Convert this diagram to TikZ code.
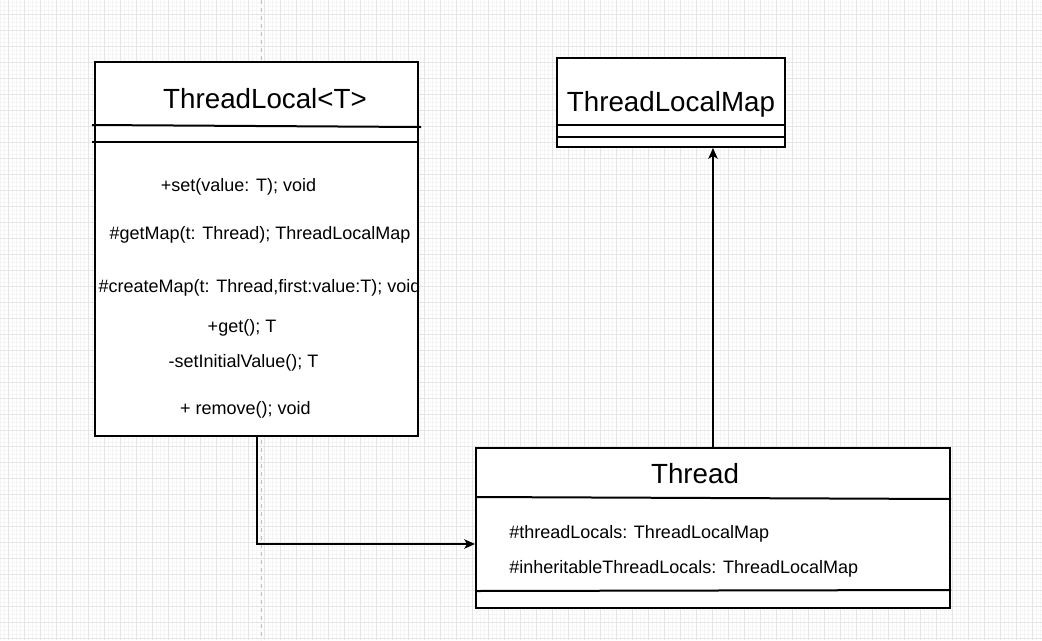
\documentclass[tikz,border=0pt]{standalone}
\usepackage{fontspec}
\setmainfont{Liberation Sans}
\usetikzlibrary{positioning,calc,arrows.meta}
\tikzset{
  classbox/.style={draw, line width=1.5pt, fill=white, inner sep=0pt},
  divider/.style={line width=1.5pt},
  conn/.style={line width=1.5pt},
  titletext/.style={font=\fontsize{20.8}{24}\selectfont, inner sep=0pt},
  membertext/.style={font=\fontsize{13.5}{16}\selectfont, inner sep=0pt},
}
\begin{document}
\begin{tikzpicture}[x=0.75pt,y=-0.75pt,>={Stealth[length=8pt,width=7pt,inset=2pt]}]
\useasboundingbox (0,0) rectangle (1042,640);
\fill[white] (0,0) rectangle (1042,640);
% grid
\foreach \gx in {0,4,...,1040} \draw[black!4, line width=0.3pt] (\gx,0) -- (\gx,640);
\foreach \gy in {2,6,...,640} \draw[black!4, line width=0.3pt] (0,\gy) -- (1042,\gy);
\foreach \gx in {8,24,...,1040} \draw[black!10, line width=0.4pt] (\gx,0) -- (\gx,640);
\foreach \gy in {14,30,...,640} \draw[black!10, line width=0.4pt] (0,\gy) -- (1042,\gy);
\draw[black!25, dashed, line width=0.5pt] (261,0) -- (261,640);

% classes
\node[classbox, minimum width=242.25pt, minimum height=280.5pt] (tl) at (256.5,249) {};
\node[classbox, minimum width=171pt, minimum height=66.75pt] (tlm) at (671,102.5) {};
\node[classbox, minimum width=355.5pt, minimum height=120pt] (thr) at (713,528) {};

\draw[divider] ([xshift=-1.5pt]tl.west |- 0,125) -- ([xshift=1.5pt]tl.east |- 0,127);
\draw[divider] ([xshift=-1.5pt]tl.west |- 0,142) -- (tl.east |- 0,142);
\draw[divider] (tlm.west |- 0,125) -- (tlm.east |- 0,125);
\draw[divider] (tlm.west |- 0,137) -- (tlm.east |- 0,137);
\draw[divider] (thr.west |- 0,497) -- (thr.east |- 0,499);
\draw[divider] (thr.west |- 0,591) -- (thr.east |- 0,590);

% titles
\node[titletext] (tltitle) at (265,99) {ThreadLocal<T>};
\node[titletext] (tlmtitle) at (671,104) {ThreadLocalMap};
\node[titletext] (thrtitle) at (695,474) {Thread};

% methods
\node[membertext] (mset) at (238.5,187) {+set(value: T); void};
\node[membertext] (mgetmap) at (260,235) {\#getMap(t: Thread); ThreadLocalMap};
\node[membertext] (mcreatemap) at (259.5,288) {\#createMap(t: Thread,first:value:T); void};
\node[membertext] (mget) at (242,328) {+get(); T};
\node[membertext] (minit) at (243.5,363) {-setInitialValue(); T};
\node[membertext] (mremove) at (245.5,410) {+ remove(); void};

% fields
\node[membertext, anchor=west] (fthreadlocals) at (509,534) {\#threadLocals: ThreadLocalMap};
\node[membertext, anchor=west] (finherit) at (509,569) {\#inheritableThreadLocals: ThreadLocalMap};

% connectors
\coordinate (thrin) at (thr.west |- 0,544);
\draw[conn,->] (tl.south) |- (thrin);
\draw[conn,->] (thr.north) -- (thr.north |- tlm.south);
\end{tikzpicture}
\end{document}
